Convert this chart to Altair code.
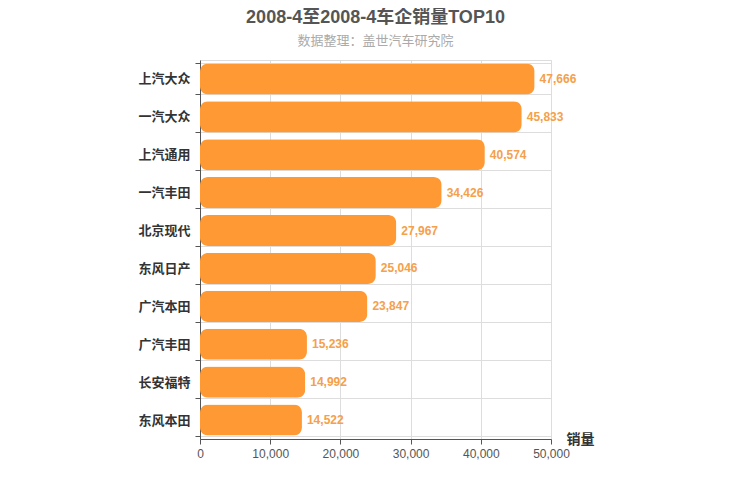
import altair as alt
import pandas as pd

companies = ["上汽大众", "一汽大众", "上汽通用", "一汽丰田", "北京现代",
             "东风日产", "广汽本田", "广汽丰田", "长安福特", "东风本田"]
sales = [47666, 45833, 40574, 34426, 27967, 25046, 23847, 15236, 14992, 14522]

df = pd.DataFrame({"company": companies, "sales": sales})
FONT = "Liberation Sans, Noto Sans CJK SC, sans-serif"

y_enc = alt.Y("company:N", sort=companies, title=None,
              scale=alt.Scale(paddingInner=0.18, paddingOuter=0.09),
              axis=alt.Axis(tickBand="extent", grid=True, gridColor="#dddddd",
                            domainColor="#555555", tickColor="#555555", tickSize=5,
                            labelFont=FONT, labelFontSize=13, labelFontWeight="bold",
                            labelColor="#333333", labelPadding=5))
x_enc = alt.X("sales:Q", title="销量",
              scale=alt.Scale(domain=[0, 50000], nice=False),
              axis=alt.Axis(values=[0, 10000, 20000, 30000, 40000, 50000], format=",.0f",
                            labelFlush=False, labelPadding=4,
                            grid=True, gridColor="#dddddd", domainColor="#555555",
                            tickColor="#555555", tickSize=5,
                            labelFont=FONT, labelFontSize=12, labelColor="#555555",
                            titleFont=FONT, titleFontSize=14, titleFontWeight="bold",
                            titleColor="#333333", titleX=366, titleY=0,
                            titleAlign="left", titleBaseline="middle"))

base = alt.Chart(df).encode(x=x_enc, y=y_enc)
bars = base.mark_bar(color="#FF9933", cornerRadius=8)
labels = base.mark_text(align="left", baseline="middle", dx=5, font=FONT,
                        fontSize=12, fontWeight="bold", color="#F5A04A").encode(
    text=alt.Text("sales:Q", format=",.0f"))

chart = (bars + labels).properties(
    width=351, height=379,
    autosize=alt.AutoSizeParams(type="none"),
    padding={"left": 192, "top": 52, "right": 191, "bottom": 53},
    title=alt.TitleParams(text="2008-4至2008-4车企销量TOP10",
                          subtitle="数据整理：盖世汽车研究院",
                          font=FONT, fontSize=18, fontWeight="bold", color="#555555",
                          subtitleFont=FONT, subtitleFontSize=13, subtitleColor="#aaaaaa",
                          subtitlePadding=8, anchor="middle", offset=6),
).configure_view(stroke="#dddddd")

chart.save("out.html", embed_options={"renderer": "svg", "actions": False})
